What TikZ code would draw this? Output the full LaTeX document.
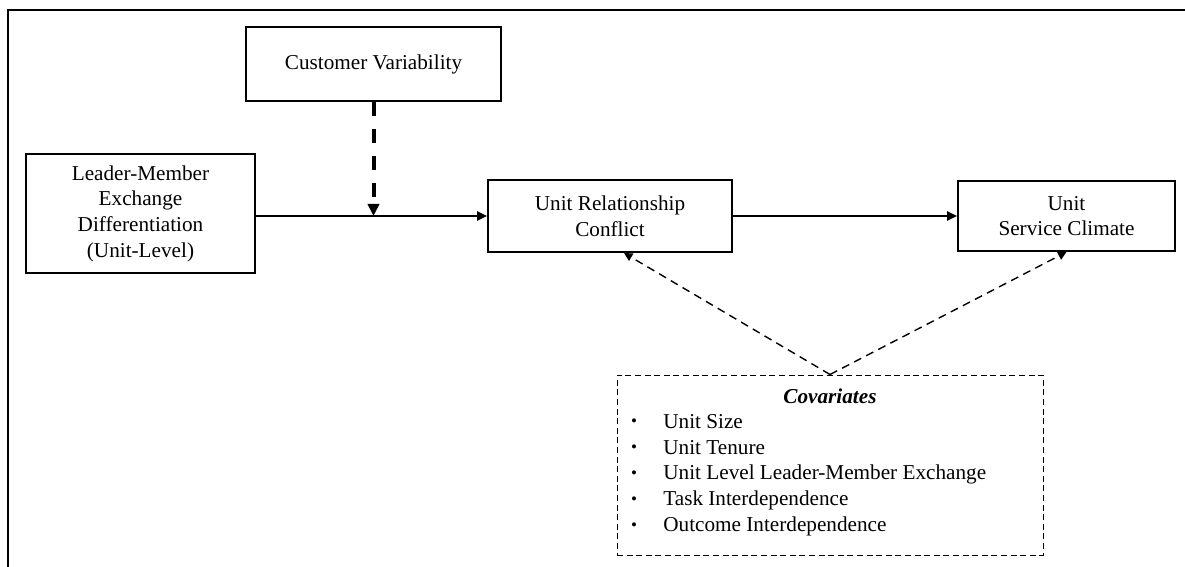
\documentclass[tikz,border=0pt]{standalone}
\usepackage{fontspec}
\setmainfont{Liberation Serif}
\usetikzlibrary{arrows.meta,positioning}

\tikzset{
    % Base node style
    basenode/.style={
        draw=black,
        fill=white,
        line width=1pt,
        inner sep=2pt,
        align=center,
        font=\fontsize{10.6}{12.85}\selectfont
    },
    % Covariates box
    covbox/.style={
        basenode,
        line width=0.5pt,
        dash pattern=on 3pt off 1.8pt
    },
    % Plain text inside the covariates box
    textnode/.style={
        inner sep=0pt,
        font=\fontsize{10.6}{12.85}\selectfont
    },
    itemnode/.style={
        textnode,
        anchor=west
    },
    bulletnode/.style={
        inner sep=0pt,
        font=\fontsize{8.5}{8.5}\selectfont
    },
    % Arrow styles
    myarrow/.style={
        -{Triangle[length=5pt,width=4.6pt]},
        line width=1.1pt,
        draw=black
    },
    % Moderation arrow
    modarrow/.style={
        -{Triangle[length=6pt,width=5.6pt]},
        line width=2pt,
        dash pattern=on 7pt off 6.5pt,
        draw=black
    },
    % Control arrows
    covarrow/.style={
        -{Triangle[length=4.2pt,width=4.2pt]},
        line width=0.7pt,
        dash pattern=on 4pt off 2.8pt,
        draw=black
    },
    % Page frame
    framerule/.style={
        line width=1pt,
        draw=black
    }
}

\begin{document}
\begin{tikzpicture}[x=0.5pt, y=-0.5pt]
    \useasboundingbox (0,0) rectangle (1185,567);

    % frame
    \draw[framerule] (7,10) -- (1185,10);
    \draw[framerule] (8,9.5) -- (8,567);

    % constructs
    \node[basenode, minimum width=127.5pt, minimum height=37pt] (cv) at (373.5,64) {Customer Variability};
    \node[basenode, minimum width=114.5pt, minimum height=59.5pt] (lmx) at (140.5,213.5) {Leader-Member\\Exchange\\Differentiation\\(Unit-Level)};
    \node[basenode, minimum width=122pt, minimum height=36pt] (urc) at (610,216) {Unit Relationship\\Conflict};
    \node[basenode, minimum width=108.5pt, minimum height=35pt] (usc) at (1066.5,216) {Unit\\Service Climate};

    % covariates
    \node[covbox, minimum width=213pt, minimum height=90pt] (cov) at (830,465) {};
    \node[textnode, font=\fontsize{10.6}{12.85}\selectfont\bfseries\itshape] (covtitle) at (830,396) {Covariates};
    \node[bulletnode] (b1) at (634,423) {\textbullet};
    \node[bulletnode] (b2) at (634,449) {\textbullet};
    \node[bulletnode] (b3) at (634,475) {\textbullet};
    \node[bulletnode] (b4) at (634,501) {\textbullet};
    \node[bulletnode] (b5) at (634,527) {\textbullet};
    \node[itemnode] (i1) at (663,422) {Unit Size};
    \node[itemnode] (i2) at (663,448) {Unit Tenure};
    \node[itemnode] (i3) at (663,474) {Unit Level Leader-Member Exchange};
    \node[itemnode] (i4) at (663,500) {Task Interdependence};
    \node[itemnode] (i5) at (663,526) {Outcome Interdependence};

    % paths
    \draw[myarrow] (lmx.east |- urc.west) -- (urc.west);
    \draw[myarrow] (urc.east) -- (usc.west);
    \coordinate (join) at (cv.south |- urc.west);
    \draw[modarrow] (cv.south) -- (join);
    \draw[covarrow] (cov.north) -- ([xshift=7pt]urc.south);
    \draw[covarrow] (cov.north) -- (usc.south);
\end{tikzpicture}
\end{document}
